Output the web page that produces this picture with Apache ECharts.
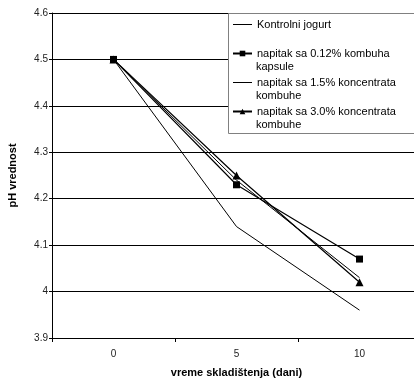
<!DOCTYPE html>
<html><head><meta charset="utf-8">
<script src="https://cdn.jsdelivr.net/npm/echarts@6/dist/echarts.min.js"></script>
<style>html,body{margin:0;padding:0;background:#fff}#c{width:414px;height:378px}</style>
</head><body><div id="c"></div>
<script>
var categories = ['0', '5', '10'];
var kontrolni = [4.5, 4.14, 3.96];
var kapsule012 = [4.5, 4.23, 4.07];
var koncentrat15 = [4.5, 4.24, 4.03];
var koncentrat30 = [4.5, 4.25, 4.02];
var seriesNames = ['Kontrolni jogurt', 'napitak sa 0.12% kombuha\nkapsule', 'napitak sa 1.5% koncentrata\nkombuhe', 'napitak sa 3.0% koncentrata\nkombuhe'];
var yMin = 3.9, yMax = 4.6, yStep = 0.1;

var font = 'Liberation Sans, Arial, sans-serif';
var chart = echarts.init(document.getElementById('c'));
var legendTop = 17, legendStep = 29;
var lineIcon = 'path://M0,0L0,0M0,3h19v1h-19zM0,7L0,7';
var secondLines = [];
seriesNames.forEach(function (n, i) {
  var parts = n.split('\n');
  if (parts[1]) {
    secondLines.push({ type: 'text', z: 10, left: 256, top: legendTop + i * legendStep + 15,
      style: { text: parts[1], font: '11px ' + font, fill: '#000' } });
  }
});
chart.setOption({
  animation: false,
  backgroundColor: '#fff',
  grid: { left: 52, right: -7, top: 13, bottom: 40, outerBoundsMode: 'none', containLabel: false },
  xAxis: {
    type: 'category', data: categories, boundaryGap: true,
    name: 'vreme skladištenja (dani)', nameLocation: 'middle', nameGap: 29,
    nameTextStyle: { fontFamily: font, fontSize: 11, fontWeight: 'bold', color: '#000' },
    axisLine: { lineStyle: { color: '#000', width: 1 } },
    axisTick: { show: true, length: 4, lineStyle: { color: '#000' } },
    axisLabel: { fontFamily: font, fontSize: 10, color: '#222', margin: 11 },
    splitLine: { show: false }
  },
  yAxis: {
    type: 'value', min: yMin, max: yMax, interval: yStep,
    name: 'pH vrednost', nameLocation: 'middle', nameGap: 34, nameRotate: 90,
    nameTextStyle: { fontFamily: font, fontSize: 11, fontWeight: 'bold', color: '#000' },
    axisLine: { show: true, lineStyle: { color: '#000', width: 1 } },
    axisTick: { show: true, length: 3, lineStyle: { color: '#000' } },
    axisLabel: { fontFamily: font, fontSize: 10, color: '#222', margin: 4,
      formatter: function (v) { return String(Math.round(v * 10) / 10); } },
    splitLine: { show: true, lineStyle: { color: '#000', width: 1 } }
  },
  graphic: [{ type: 'rect', left: 228, top: 13, z: 5,
    shape: { width: 200, height: 120 },
    style: { fill: '#fff', stroke: '#808080', lineWidth: 1 } }].concat(secondLines),
  legend: {
    data: [{ name: seriesNames[0], icon: lineIcon }, seriesNames[1], { name: seriesNames[2], icon: lineIcon }, seriesNames[3]],
    left: 232, top: legendTop, orient: 'vertical', padding: 0,
    itemWidth: 19, itemHeight: 7, itemGap: 14, z: 10, selectedMode: false,
    formatter: function (n) { return n.split('\n')[0]; },
    textStyle: { fontFamily: font, fontSize: 11, color: '#000', lineHeight: 15 }
  },
  series: [
    { name: seriesNames[0], type: 'line', data: kontrolni, symbol: 'none', lineStyle: { color: '#000', width: 1 }, itemStyle: { color: '#000' } },
    { name: seriesNames[1], type: 'line', data: kapsule012, symbol: 'rect', symbolSize: 7, lineStyle: { color: '#000', width: 1.2 }, itemStyle: { color: '#000' } },
    { name: seriesNames[2], type: 'line', data: koncentrat15, symbol: 'none', lineStyle: { color: '#000', width: 1 }, itemStyle: { color: '#000' } },
    { name: seriesNames[3], type: 'line', data: koncentrat30, symbol: 'triangle', symbolSize: 8, lineStyle: { color: '#000', width: 1.2 }, itemStyle: { color: '#000' } }
  ]
});
</script></body></html>
